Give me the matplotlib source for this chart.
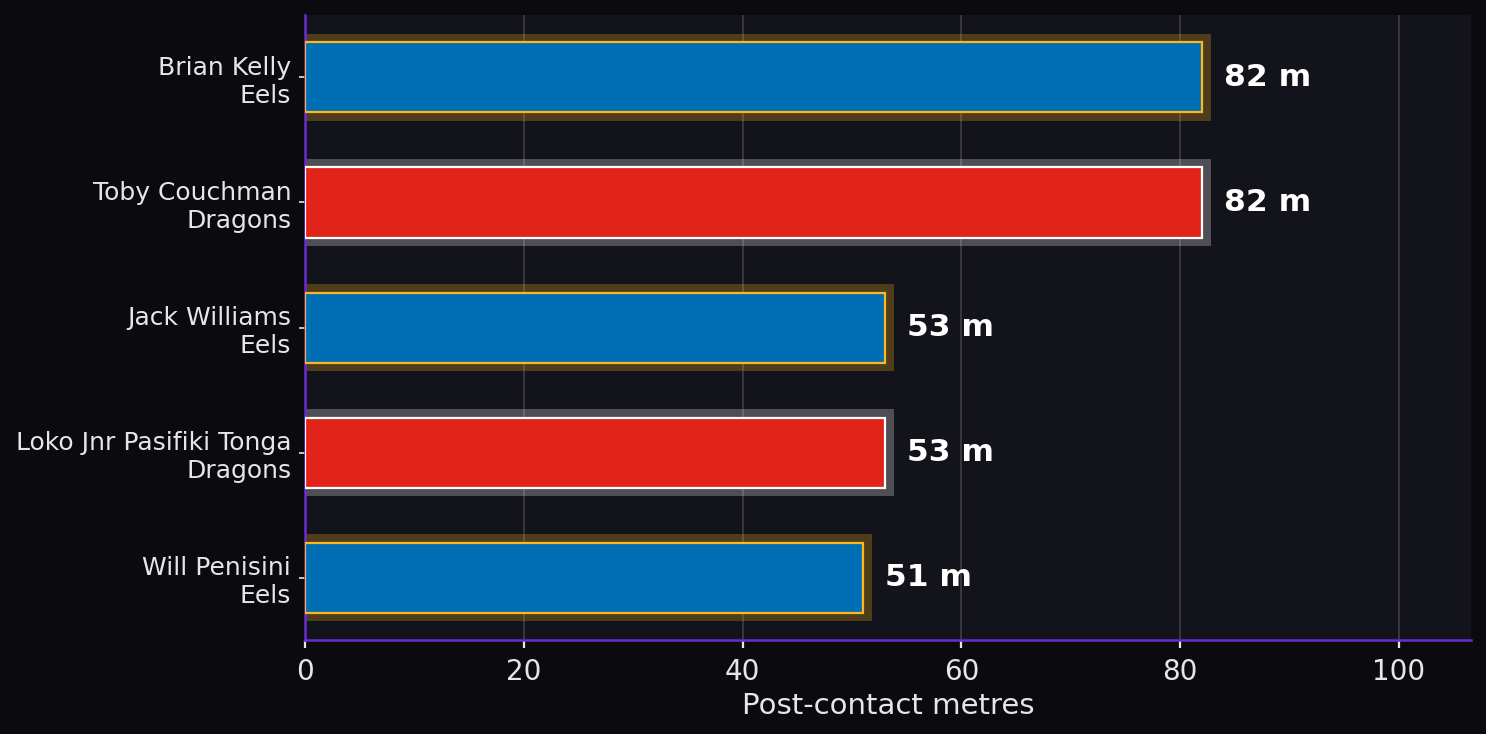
import matplotlib
matplotlib.use("Agg")
import matplotlib.pyplot as plt

plt.rcParams["font.family"] = ["DejaVu Sans"]

players = ["Brian Kelly", "Toby Couchman", "Jack Williams", "Loko Jnr Pasifiki Tonga", "Will Penisini"]
teams = ["Eels", "Dragons", "Eels", "Dragons", "Eels"]
values = [82, 82, 53, 53, 51]
unit = "m"
xlabel = "Post-contact metres"

team_fill = {"Eels": "#006EB5", "Dragons": "#E2231A"}
team_edge = {"Eels": "#FFB81C", "Dragons": "#FFFFFF"}

fig_bg = "#0B0B0F"
ax_bg = "#13131B"
spine_c = "#6A2BD0"
text_c = "#E6E6E6"

fig = plt.figure(figsize=(7.43, 3.67), dpi=200, facecolor=fig_bg)
ax = fig.add_axes([0.2053, 0.128, 0.7846, 0.8516])
ax.set_facecolor(ax_bg)

ypos = list(range(len(players)))
labels = [f"{p}\n{t}" for p, t in zip(players, teams)]

for y, v, t in zip(ypos, values, teams):
    ax.barh(y, v + 0.85, height=0.70, color=team_edge[t], alpha=0.25, linewidth=0, zorder=2)
    ax.barh(y, v, height=0.56, color=team_fill[t], edgecolor=team_edge[t], linewidth=0.8, zorder=3)
    ax.text(v + 2.0, y, f"{v} {unit}", va="center", ha="left", color="white",
            fontsize=11.3, fontweight="bold", zorder=4)

ax.set_yticks(ypos)
ax.set_yticklabels(labels, fontsize=9, color=text_c)
ax.set_ylim(4.5, -0.5)
ax.set_xlim(0, max(values) * 1.3)
ax.set_xticks([0, 20, 40, 60, 80, 100])
ax.tick_params(axis="x", labelsize=10, colors=text_c, length=3, width=0.8)
ax.tick_params(axis="y", colors=text_c, length=2.2, width=0.6, pad=2.8)
ax.set_xlabel(xlabel, fontsize=10.5, color=text_c, labelpad=2)

ax.grid(axis="x", color="white", alpha=0.18, linewidth=0.6, zorder=1)
ax.set_axisbelow(True)

for s in ["top", "right"]:
    ax.spines[s].set_visible(False)
for s in ["left", "bottom"]:
    ax.spines[s].set_color(spine_c)
    ax.spines[s].set_linewidth(0.9)

fig.savefig("out.png", dpi=200, facecolor=fig_bg)
